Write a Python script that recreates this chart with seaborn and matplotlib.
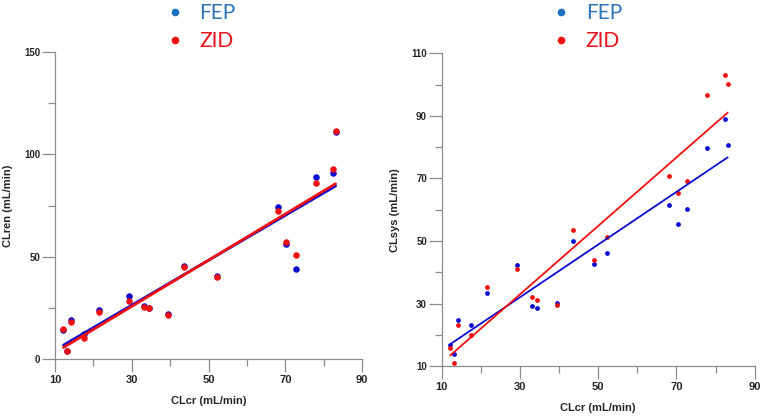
import numpy as np
import pandas as pd
import matplotlib.pyplot as plt
import seaborn as sns
from matplotlib.lines import Line2D
from matplotlib.ticker import FixedLocator

# Data
clcr = [12.2, 13.1, 14.2, 17.6, 21.5, 29.2, 33.2, 34.5, 39.5, 43.6, 49.0, 52.2,
        68.1, 70.3, 72.8, 77.9, 82.5, 83.1]
clren_fep = [14.3, 3.9, 19.0, 12.1, 24.1, 30.8, 25.9, 24.7, 21.8, 45.6, np.nan, 40.5,
             74.4, 56.0, 43.8, 88.9, 90.7, 111.0]
clren_zid = [14.5, 3.9, 17.9, 10.1, 22.8, 28.5, 25.6, 24.7, 21.6, 45.1, np.nan, 39.9,
             72.5, 57.3, 50.8, 86.1, 92.8, 111.5]
clsys_fep = [16.7, 13.8, 24.6, 23.2, 33.4, 42.2, 29.1, 28.5, 30.1, 49.9, 42.6, 46.2,
             61.6, 55.5, 60.1, 79.8, 88.9, 80.7]
clsys_zid = [15.7, 11.0, 23.0, 20.0, 35.3, 40.9, 32.1, 31.2, 29.5, 53.4, 43.8, 51.3,
             70.7, 65.3, 69.3, 96.7, 103.1, 100.2]

x_major = [10, 30, 50, 70, 90]
x_minor = [20, 40, 60, 80]
ren_major = [0, 50, 100, 150]
ren_minor = [25, 75, 125]
sys_major = [10, 30, 50, 70, 90, 110]
sys_minor = [20, 40, 60, 80, 100]

df = pd.DataFrame({'clcr': clcr, 'ren_fep': clren_fep, 'ren_zid': clren_zid,
                   'sys_fep': clsys_fep, 'sys_zid': clsys_zid})

blue = '#0a0ad0'
red = '#f01010'
axis_gray = '#8c8c8c'

sns.set_style('white')
plt.rcParams['font.family'] = ['Liberation Sans', 'DejaVu Sans']

fig = plt.figure(figsize=(7.6, 4.16), dpi=100)
ax1 = fig.add_axes([0.0724, 0.137, 0.404, 0.738])
ax2 = fig.add_axes([0.581, 0.120, 0.412, 0.752])

# Left panel: renal clearance
sub = df.dropna(subset=['ren_fep'])
sns.regplot(x='clcr', y='ren_fep', data=sub, ax=ax1, ci=None, color=blue,
            scatter_kws={'s': 22, 'linewidths': 0, 'alpha': 1},
            line_kws={'lw': 2.0})
sns.regplot(x='clcr', y='ren_zid', data=sub, ax=ax1, ci=None, color=red,
            scatter_kws={'s': 22, 'linewidths': 0, 'alpha': 1},
            line_kws={'lw': 2.0})
ax1.set_xlim(10, 90)
ax1.set_ylim(0, 150)
ax1.set_ylabel('CLren (mL/min)', fontsize=8, fontweight='bold', labelpad=8)
ax1.yaxis.set_major_locator(FixedLocator(ren_major))
ax1.yaxis.set_minor_locator(FixedLocator(ren_minor))

# Right panel: systemic clearance
sns.regplot(x='clcr', y='sys_fep', data=df, ax=ax2, ci=None, color=blue,
            scatter_kws={'s': 12, 'linewidths': 0, 'alpha': 1},
            line_kws={'lw': 1.3})
sns.regplot(x='clcr', y='sys_zid', data=df, ax=ax2, ci=None, color=red,
            scatter_kws={'s': 12, 'linewidths': 0, 'alpha': 1},
            line_kws={'lw': 1.3})
ax2.set_xlim(10, 90)
ax2.set_ylim(10, 110)
ax2.set_ylabel('CLsys (mL/min)', fontsize=8, fontweight='bold', labelpad=8)
ax2.yaxis.set_major_locator(FixedLocator(sys_major))
ax2.yaxis.set_minor_locator(FixedLocator(sys_minor))

for ax in (ax1, ax2):
    ax.set_xlabel('CLcr (mL/min)', fontsize=8, fontweight='bold', labelpad=8)
    ax.xaxis.set_major_locator(FixedLocator(x_major))
    ax.xaxis.set_minor_locator(FixedLocator(x_minor))
    for side in ('top', 'right'):
        ax.spines[side].set_visible(False)
    for side in ('left', 'bottom'):
        ax.spines[side].set_color(axis_gray)
        ax.spines[side].set_linewidth(0.9)
    ax.tick_params(which='major', direction='out', length=9.5, width=0.9,
                   color=axis_gray, left=True, bottom=True)
    ax.tick_params(which='minor', direction='out', length=5, width=0.9,
                   color=axis_gray, left=True, bottom=True)
    ax.tick_params(axis='x', which='major', labelsize=8, pad=2)
    ax.tick_params(axis='y', which='major', labelsize=7, pad=1)
    for lab in ax.get_xticklabels() + ax.get_yticklabels():
        lab.set_fontweight('bold')
    ax.set_facecolor('white')

    handles = [Line2D([], [], marker='o', ls='', color='#1f6fc0', markersize=4.5),
               Line2D([], [], marker='o', ls='', color=red, markersize=4.5)]
    x_anchor = 0.216 if ax is ax1 else 0.724
    leg = ax.legend(handles, ['FEP', 'ZID'], loc='upper left',
                    bbox_to_anchor=(x_anchor, 0.993), bbox_transform=fig.transFigure,
                    frameon=False, handlelength=1.0, handletextpad=0.7,
                    labelspacing=0.4, borderpad=0, borderaxespad=0,
                    labelcolor=['#2e75b6', '#e8141c'],
                    prop={'family': ['Lato', 'DejaVu Sans'], 'size': 15})

fig.savefig('out.png', dpi=100, facecolor='white')
